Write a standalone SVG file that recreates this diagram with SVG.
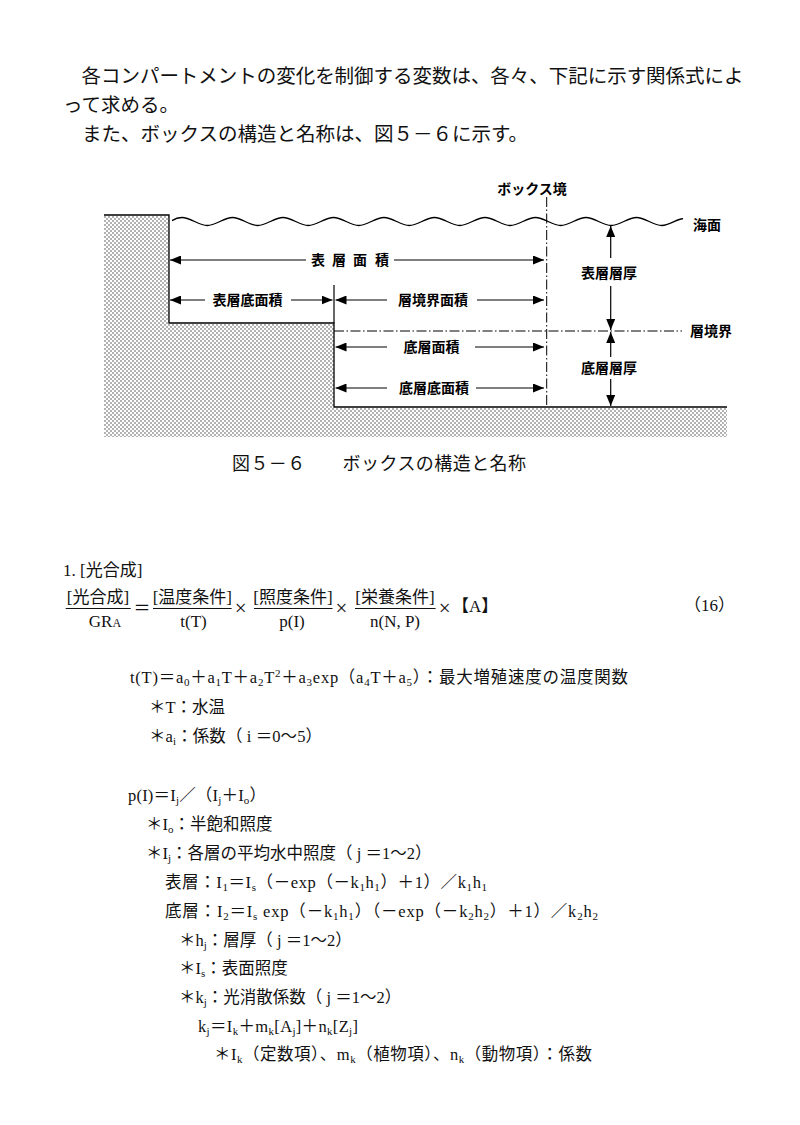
<svg xmlns="http://www.w3.org/2000/svg" width="800" height="1125" viewBox="0 0 800 1125">
<defs>
<style>
.body{font-family:"Noto Sans CJK JP",sans-serif;font-size:19.5px;fill:#111}
.cap{font-family:"Noto Sans CJK JP",sans-serif;font-size:18px;fill:#111}
.lbl{font-family:"Noto Sans CJK JP",sans-serif;font-size:14px;font-weight:700;fill:#000}
.m{font-family:"Liberation Serif","Noto Sans CJK JP",serif;font-size:16.5px;fill:#111}
.m17{font-family:"Liberation Serif","Noto Sans CJK JP",serif;font-size:17px;fill:#111}
.x{font-family:"Liberation Serif",serif;font-size:21px;fill:#111}
.sb{font-size:11px}
.ln{stroke:#000;stroke-width:1.3;fill:none}
.dim{stroke:#000;stroke-width:1.2;fill:none}
.dd{stroke:#000;stroke-width:1;fill:none;stroke-dasharray:10 2.5 1.5 2.5}
.bar{stroke:#111;stroke-width:1}
</style>
<pattern id="dots" width="4" height="4" patternUnits="userSpaceOnUse">
<circle cx="1" cy="1" r="0.65" fill="#222"/>
<circle cx="3" cy="3" r="0.65" fill="#222"/>
</pattern>
<marker id="ah" viewBox="0 0 11 9" refX="11" refY="4.5" markerWidth="11" markerHeight="9" markerUnits="userSpaceOnUse" orient="auto-start-reverse">
<path d="M0,0 L11,4.5 L0,9 z" fill="#000"/>
</marker>
</defs>
<rect width="800" height="1125" fill="#fff"/>

<g id="paragraph">
<text class="body" x="81.5" y="83" textLength="662" lengthAdjust="spacing">各コンパートメントの変化を制御する変数は、各々、下記に示す関係式によ</text>
<text class="body" x="63" y="112">って求める。</text>
<text class="body" x="82" y="141">また、ボックスの構造と名称は、図５－６に示す。</text>
</g>

<g id="figure">
<g id="land">
<polygon points="104,216 169,216 169,324 334,324 334,408 727,408 727,437 104,437" fill="url(#dots)"/>
<polyline class="ln" points="104,215 169,215 169,323 334,323 334,407 727,407"/>
<line class="dim" x1="334" y1="285" x2="334" y2="323"/>
</g>
<g id="sea-surface">
<path class="ln" d="M172,220.6 C175.5,218.3 178.5,217.5 182,217.5 C190.4,217.5 198.8,225.5 207.25,225.5 S224.1,217.5 232.5,217.5 S249.4,225.5 257.75,225.5 S274.6,217.5 283,217.5 S299.9,225.5 308.25,225.5 S325.1,217.5 333.5,217.5 S350.4,225.5 358.75,225.5 S375.6,217.5 384,217.5 S400.9,225.5 409.25,225.5 S426.1,217.5 434.5,217.5 S451.4,225.5 459.75,225.5 S476.6,217.5 485,217.5 S501.9,225.5 510.25,225.5 S527.1,217.5 535.5,217.5 S552.4,225.5 560.75,225.5 S577.6,217.5 586,217.5 S602.9,225.5 611.25,225.5 S628.1,217.5 636.5,217.5 S653.4,225.5 661.75,225.5 S678.6,217.8 683,218.8"/>
<text class="lbl" x="693" y="230">海面</text>
</g>
<g id="box-boundary">
<line class="dd" x1="546.7" y1="197" x2="546.7" y2="407"/>
<text class="lbl" x="532" y="194" text-anchor="middle">ボックス境</text>
</g>
<g id="layer-boundary">
<line class="dd" x1="334" y1="331" x2="682" y2="331"/>
<text class="lbl" x="690" y="336">層境界</text>
</g>
<g id="connectors">
<line class="dim" x1="170" y1="260" x2="306" y2="260" marker-start="url(#ah)"/>
<line class="dim" x1="394" y1="260" x2="544" y2="260" marker-end="url(#ah)"/>
<line class="dim" x1="170" y1="300" x2="205" y2="300" marker-start="url(#ah)"/>
<line class="dim" x1="291" y1="300" x2="332.5" y2="300" marker-end="url(#ah)"/>
<line class="dim" x1="335.5" y1="300" x2="387" y2="300" marker-start="url(#ah)"/>
<line class="dim" x1="477" y1="300" x2="544" y2="300" marker-end="url(#ah)"/>
<line class="dim" x1="335.5" y1="347" x2="387" y2="347" marker-start="url(#ah)"/>
<line class="dim" x1="475" y1="347" x2="544" y2="347" marker-end="url(#ah)"/>
<line class="dim" x1="335.5" y1="388" x2="387" y2="388" marker-start="url(#ah)"/>
<line class="dim" x1="476" y1="388" x2="544" y2="388" marker-end="url(#ah)"/>
<line class="dim" x1="610.7" y1="226" x2="610.7" y2="258" marker-start="url(#ah)"/>
<line class="dim" x1="610.7" y1="286" x2="610.7" y2="330" marker-end="url(#ah)"/>
<line class="dim" x1="610.7" y1="332" x2="610.7" y2="357" marker-start="url(#ah)"/>
<line class="dim" x1="610.7" y1="379" x2="610.7" y2="406" marker-end="url(#ah)"/>
</g>
<g id="labels">
<text class="lbl" y="265"><tspan x="311">表</tspan><tspan x="332">層</tspan><tspan x="353">面</tspan><tspan x="375">積</tspan></text>
<text class="lbl" x="247.5" y="305" text-anchor="middle">表層底面積</text>
<text class="lbl" x="433" y="305" text-anchor="middle">層境界面積</text>
<text class="lbl" x="431.5" y="352" text-anchor="middle">底層面積</text>
<text class="lbl" x="434" y="393" text-anchor="middle">底層底面積</text>
<text class="lbl" x="609" y="278" text-anchor="middle">表層層厚</text>
<text class="lbl" x="609" y="373" text-anchor="middle">底層層厚</text>
</g>
<text id="caption" class="cap" x="232" y="470" textLength="294" lengthAdjust="spacing">図５－６　　ボックスの構造と名称</text>
</g>

<g id="eq16">
<text class="m17" x="63" y="576">1. [光合成]</text>
<text class="m17" x="98" y="603" text-anchor="middle">[光合成]</text>
<line class="bar" x1="65.7" y1="608.5" x2="130.7" y2="608.5"/>
<text class="m17" x="105" y="627" text-anchor="middle">GR<tspan font-size="12">A</tspan></text>
<text class="m17" x="142" y="614" text-anchor="middle">＝</text>
<text class="m17" x="192.3" y="603" text-anchor="middle">[温度条件]</text>
<line class="bar" x1="153" y1="608.5" x2="231.6" y2="608.5"/>
<text class="m17" x="193.5" y="627" text-anchor="middle">t(T)</text>
<text class="x" x="240.6" y="615" text-anchor="middle">×</text>
<text class="m17" x="293" y="603" text-anchor="middle">[照度条件]</text>
<line class="bar" x1="254" y1="608.5" x2="332.5" y2="608.5"/>
<text class="m17" x="292" y="627" text-anchor="middle">p(I)</text>
<text class="x" x="341.5" y="615" text-anchor="middle">×</text>
<text class="m17" x="395" y="603" text-anchor="middle">[栄養条件]</text>
<line class="bar" x1="355" y1="608.5" x2="435.6" y2="608.5"/>
<text class="m17" x="395" y="627" text-anchor="middle">n(N, P)</text>
<text class="x" x="444.6" y="615" text-anchor="middle">×</text>
<text class="m17" x="452" y="612">【A】</text>
<text class="m17" x="684" y="611">（16）</text>
</g>

<g id="formulas">
<text class="m" x="130" y="683" textLength="498" lengthAdjust="spacing">t(T)＝a<tspan class="sb" dy="3">0</tspan><tspan dy="-3">＋a</tspan><tspan class="sb" dy="3">1</tspan><tspan dy="-3">T＋a</tspan><tspan class="sb" dy="3">2</tspan><tspan dy="-3">T</tspan><tspan class="sb" dy="-6">2</tspan><tspan dy="6">＋a</tspan><tspan class="sb" dy="3">3</tspan><tspan dy="-3">exp（a</tspan><tspan class="sb" dy="3">4</tspan><tspan dy="-3">T＋a</tspan><tspan class="sb" dy="3">5</tspan><tspan dy="-3">）：最大増殖速度の温度関数</tspan></text>
<text class="m" x="149" y="713">＊T：水温</text>
<text class="m" x="149" y="742" textLength="173" lengthAdjust="spacing">＊a<tspan class="sb" dy="3">i</tspan><tspan dy="-3">：係数（ i ＝0～5）</tspan></text>
<text class="m" x="128" y="801" textLength="138" lengthAdjust="spacing">p(I)＝I<tspan class="sb" dy="3">j</tspan><tspan dy="-3">／（I</tspan><tspan class="sb" dy="3">j</tspan><tspan dy="-3">＋I</tspan><tspan class="sb" dy="3">o</tspan><tspan dy="-3">）</tspan></text>
<text class="m" x="146" y="830">＊I<tspan class="sb" dy="3">o</tspan><tspan dy="-3">：半飽和照度</tspan></text>
<text class="m" x="146" y="859">＊I<tspan class="sb" dy="3">j</tspan><tspan dy="-3">：各層の平均水中照度（ j ＝1～2）</tspan></text>
<text class="m" x="165" y="888" textLength="322" lengthAdjust="spacing">表層：I<tspan class="sb" dy="3">1</tspan><tspan dy="-3">＝I</tspan><tspan class="sb" dy="3">s</tspan><tspan dy="-3">（－exp（－k</tspan><tspan class="sb" dy="3">1</tspan><tspan dy="-3">h</tspan><tspan class="sb" dy="3">1</tspan><tspan dy="-3">）＋1）／k</tspan><tspan class="sb" dy="3">1</tspan><tspan dy="-3">h</tspan><tspan class="sb" dy="3">1</tspan></text>
<text class="m" x="165" y="917" textLength="433" lengthAdjust="spacing">底層：I<tspan class="sb" dy="3">2</tspan><tspan dy="-3">＝I</tspan><tspan class="sb" dy="3">s</tspan><tspan dy="-3"> exp（－k</tspan><tspan class="sb" dy="3">1</tspan><tspan dy="-3">h</tspan><tspan class="sb" dy="3">1</tspan><tspan dy="-3">）（－exp（－k</tspan><tspan class="sb" dy="3">2</tspan><tspan dy="-3">h</tspan><tspan class="sb" dy="3">2</tspan><tspan dy="-3">）＋1）／k</tspan><tspan class="sb" dy="3">2</tspan><tspan dy="-3">h</tspan><tspan class="sb" dy="3">2</tspan></text>
<text class="m" x="179" y="946">＊h<tspan class="sb" dy="3">j</tspan><tspan dy="-3">：層厚（ j ＝1～2）</tspan></text>
<text class="m" x="179" y="974">＊I<tspan class="sb" dy="3">s</tspan><tspan dy="-3">：表面照度</tspan></text>
<text class="m" x="179" y="1003">＊k<tspan class="sb" dy="3">j</tspan><tspan dy="-3">：光消散係数（ j ＝1～2）</tspan></text>
<text class="m" x="198" y="1032" textLength="160" lengthAdjust="spacing">k<tspan class="sb" dy="3">j</tspan><tspan dy="-3">＝I</tspan><tspan class="sb" dy="3">k</tspan><tspan dy="-3">＋m</tspan><tspan class="sb" dy="3">k</tspan><tspan dy="-3">[A</tspan><tspan class="sb" dy="3">j</tspan><tspan dy="-3">]＋n</tspan><tspan class="sb" dy="3">k</tspan><tspan dy="-3">[Z</tspan><tspan class="sb" dy="3">j</tspan><tspan dy="-3">]</tspan></text>
<text class="m" x="214" y="1060" textLength="378" lengthAdjust="spacing">＊I<tspan class="sb" dy="3">k</tspan><tspan dy="-3">（定数項）、m</tspan><tspan class="sb" dy="3">k</tspan><tspan dy="-3">（植物項）、n</tspan><tspan class="sb" dy="3">k</tspan><tspan dy="-3">（動物項）：係数</tspan></text>
</g>
</svg>
